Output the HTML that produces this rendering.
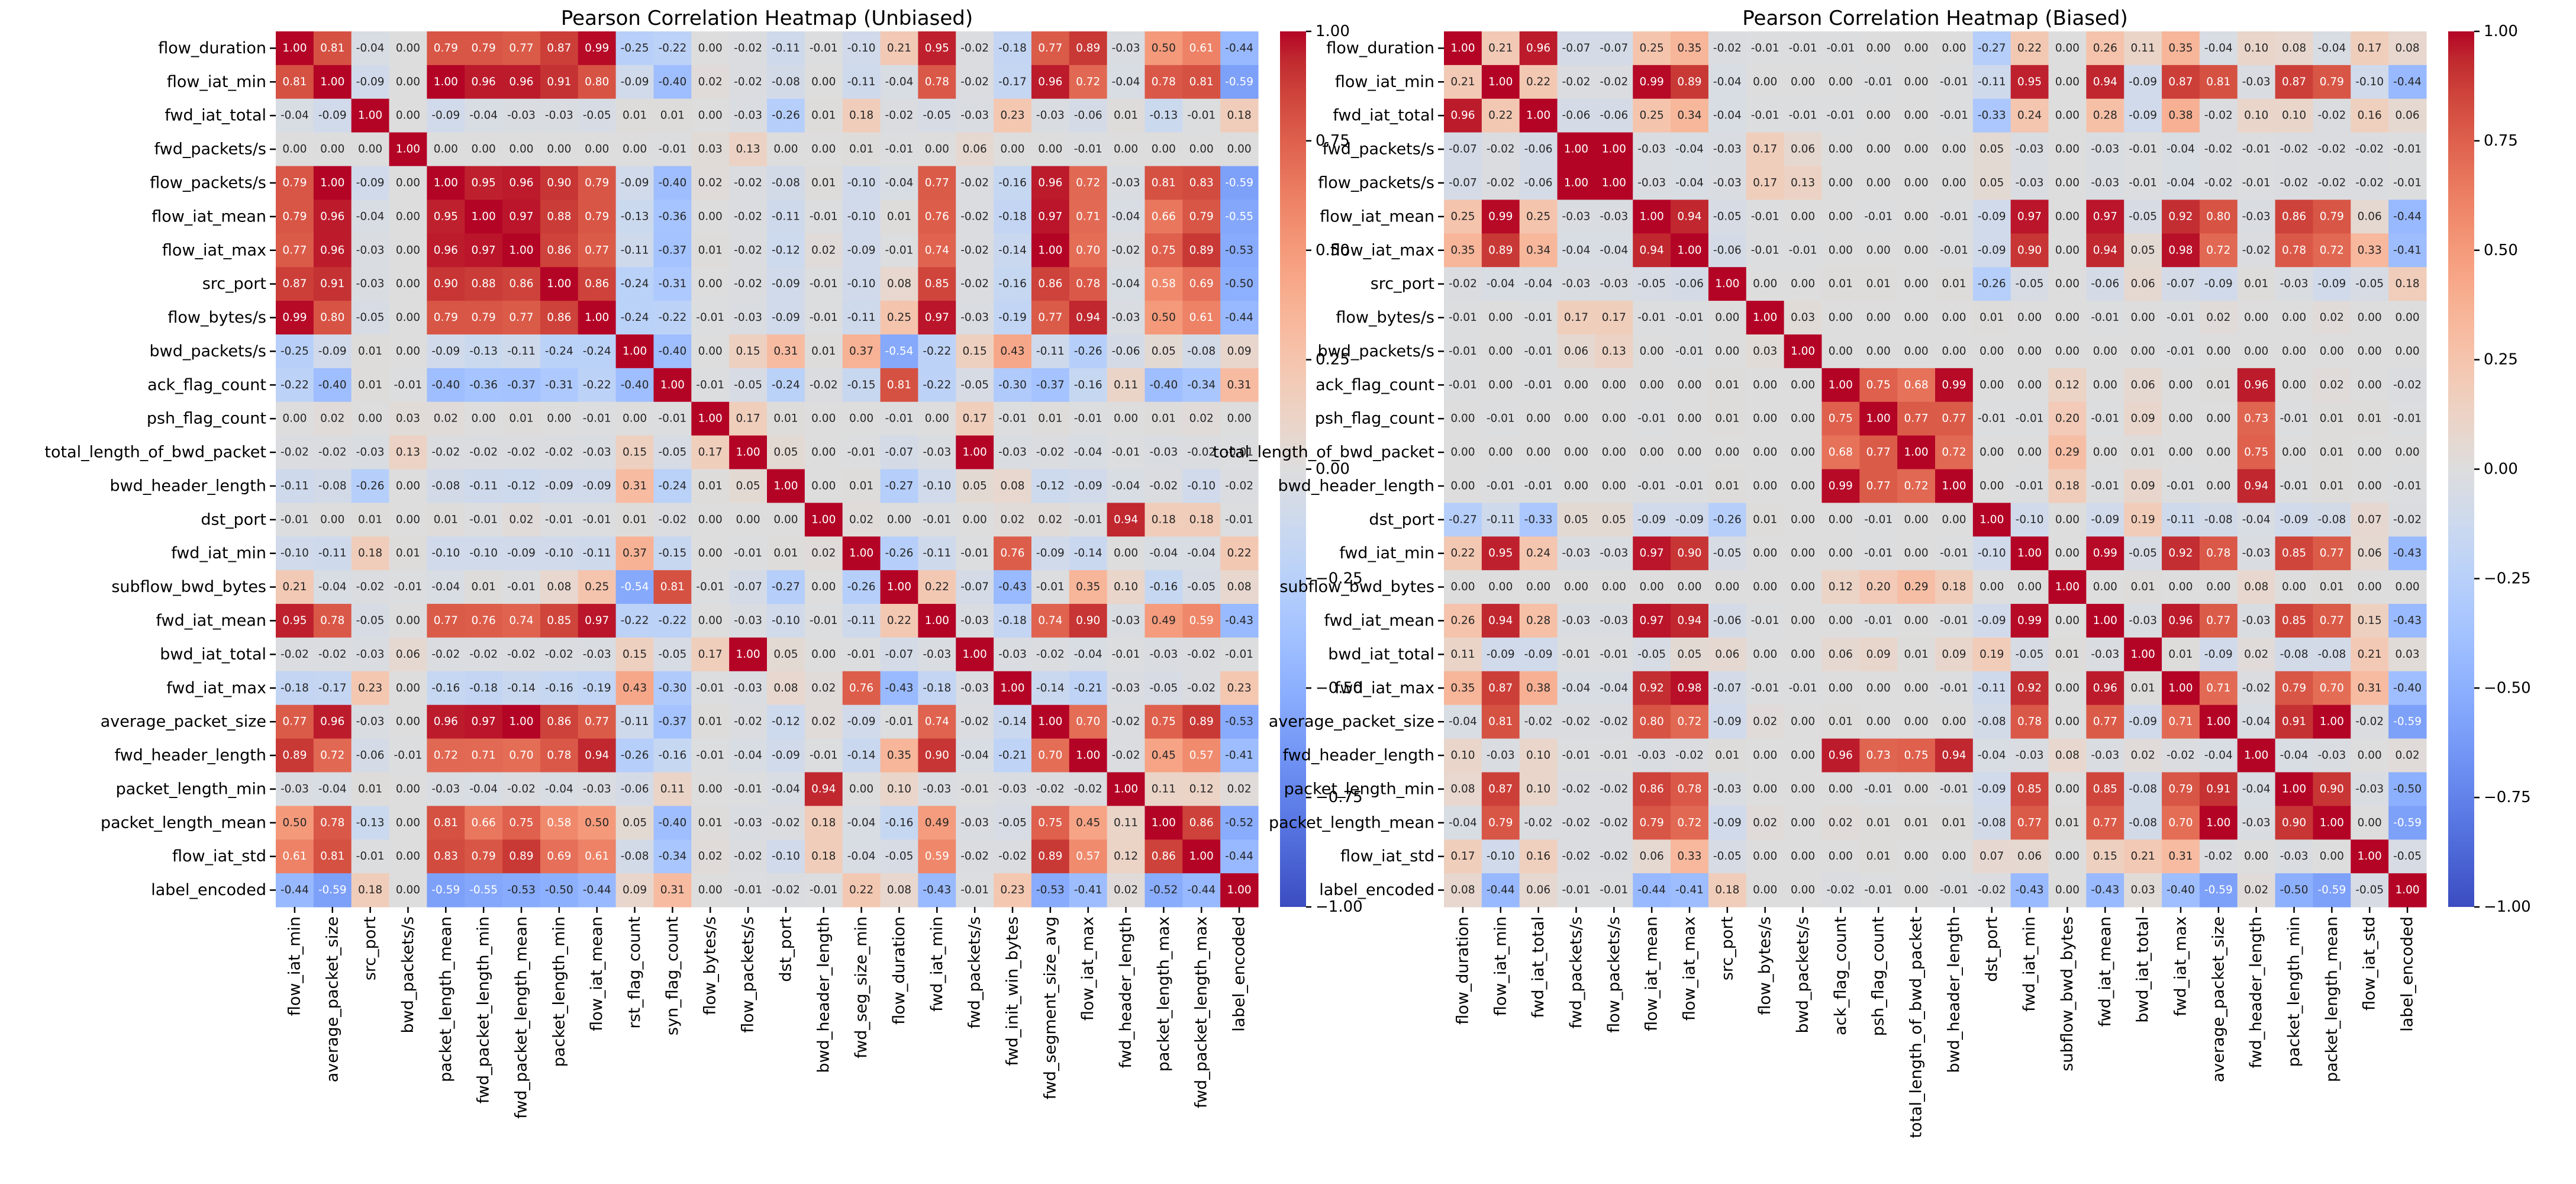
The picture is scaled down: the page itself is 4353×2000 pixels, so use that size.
<!DOCTYPE html>
<html><head><meta charset="utf-8"><style>
html,body{margin:0;padding:0;background:#fff;}
svg{display:block;font-family:"DejaVu Sans","Liberation Sans",sans-serif;}
</style></head>
<body>
<svg id="fig" xmlns="http://www.w3.org/2000/svg" width="4353" height="2000" viewBox="0 0 4353 2000">
<defs>
<linearGradient id="cmap" x1="0" y1="1" x2="0" y2="0"></linearGradient>
</defs>
<g id="chartU"></g>
<g id="chartB"></g>
</svg>
<script>
// ---------- data ----------
const rowLabels = ["flow_duration","flow_iat_min","fwd_iat_total","fwd_packets/s","flow_packets/s","flow_iat_mean","flow_iat_max","src_port","flow_bytes/s","bwd_packets/s","ack_flag_count","psh_flag_count","total_length_of_bwd_packet","bwd_header_length","dst_port","fwd_iat_min","subflow_bwd_bytes","fwd_iat_mean","bwd_iat_total","fwd_iat_max","average_packet_size","fwd_header_length","packet_length_min","packet_length_mean","flow_iat_std","label_encoded"];
const colLabelsUnbiased = ["flow_iat_min","average_packet_size","src_port","bwd_packets/s","packet_length_mean","fwd_packet_length_min","fwd_packet_length_mean","packet_length_min","flow_iat_mean","rst_flag_count","syn_flag_count","flow_bytes/s","flow_packets/s","dst_port","bwd_header_length","fwd_seg_size_min","flow_duration","fwd_iat_min","fwd_packets/s","fwd_init_win_bytes","fwd_segment_size_avg","flow_iat_max","fwd_header_length","packet_length_max","fwd_packet_length_max","label_encoded"];
const colLabelsBiased = rowLabels.slice();
const colorbarTicks = [1.00,0.75,0.50,0.25,0.00,-0.25,-0.50,-0.75,-1.00];

// Rows: either full (26 values) or upper triangle starting at the diagonal.
const unbiasedRows = [
[1.00,0.81,-0.04,-0.00,0.79,0.79,0.77,0.87,0.99,-0.25,-0.22,-0.00,-0.02,-0.11,-0.01,-0.10,0.21,0.95,-0.02,-0.18,0.77,0.89,-0.03,0.50,0.61,-0.44],
[0.81,1.00,-0.09,-0.00,1.00,0.96,0.96,0.91,0.80,-0.09,-0.40,0.02,-0.02,-0.08,0.00,-0.11,-0.04,0.78,-0.02,-0.17,0.96,0.72,-0.04,0.78,0.81,-0.59],
[-0.04,-0.09,1.00,0.00,-0.09,-0.04,-0.03,-0.03,-0.05,0.01,0.01,-0.00,-0.03,-0.26,0.01,0.18,-0.02,-0.05,-0.03,0.23,-0.03,-0.06,0.01,-0.13,-0.01,0.18],
[-0.00,-0.00,0.00,1.00,-0.00,-0.00,-0.00,-0.00,-0.00,-0.00,-0.01,0.03,0.13,0.00,0.00,0.01,-0.01,-0.00,0.06,-0.00,-0.00,-0.01,-0.00,-0.00,-0.00,-0.00],
[0.79,1.00,-0.09,-0.00,1.00,0.95,0.96,0.90,0.79,-0.09,-0.40,0.02,-0.02,-0.08,0.01,-0.10,-0.04,0.77,-0.02,-0.16,0.96,0.72,-0.03,0.81,0.83,-0.59],
[0.79,0.96,-0.04,-0.00,0.95,1.00,0.97,0.88,0.79,-0.13,-0.36,0.00,-0.02,-0.11,-0.01,-0.10,0.01,0.76,-0.02,-0.18,0.97,0.71,-0.04,0.66,0.79,-0.55],
[0.77,0.96,-0.03,-0.00,0.96,0.97,1.00,0.86,0.77,-0.11,-0.37,0.01,-0.02,-0.12,0.02,-0.09,-0.01,0.74,-0.02,-0.14,1.00,0.70,-0.02,0.75,0.89,-0.53],
[0.87,0.91,-0.03,-0.00,0.90,0.88,0.86,1.00,0.86,-0.24,-0.31,0.00,-0.02,-0.09,-0.01,-0.10,0.08,0.85,-0.02,-0.16,0.86,0.78,-0.04,0.58,0.69,-0.50],
[0.99,0.80,-0.05,-0.00,0.79,0.79,0.77,0.86,1.00,-0.24,-0.22,-0.01,-0.03,-0.09,-0.01,-0.11,0.25,0.97,-0.03,-0.19,0.77,0.94,-0.03,0.50,0.61,-0.44],
[-0.25,-0.09,0.01,-0.00,-0.09,-0.13,-0.11,-0.24,-0.24,1.00,-0.40,0.00,0.15,0.31,0.01,0.37,-0.54,-0.22,0.15,0.43,-0.11,-0.26,-0.06,0.05,-0.08,0.09],
[-0.22,-0.40,0.01,-0.01,-0.40,-0.36,-0.37,-0.31,-0.22,-0.40,1.00,-0.01,-0.05,-0.24,-0.02,-0.15,0.81,-0.22,-0.05,-0.30,-0.37,-0.16,0.11,-0.40,-0.34,0.31],
[-0.00,0.02,-0.00,0.03,0.02,0.00,0.01,0.00,-0.01,0.00,-0.01,1.00,0.17,0.01,-0.00,-0.00,-0.01,-0.00,0.17,-0.01,0.01,-0.01,-0.00,0.01,0.02,-0.00],
[-0.02,-0.02,-0.03,0.13,-0.02,-0.02,-0.02,-0.02,-0.03,0.15,-0.05,0.17,1.00,0.05,-0.00,-0.01,-0.07,-0.03,1.00,-0.03,-0.02,-0.04,-0.01,-0.03,-0.02,-0.01],
[1.00,0.00,0.01,-0.27,-0.10,0.05,0.08,-0.12,-0.09,-0.04,-0.02,-0.10,-0.02],
[1.00,0.02,-0.00,-0.01,-0.00,0.02,0.02,-0.01,0.94,0.18,0.18,-0.01],
[1.00,-0.26,-0.11,-0.01,0.76,-0.09,-0.14,-0.00,-0.04,-0.04,0.22],
[1.00,0.22,-0.07,-0.43,-0.01,0.35,0.10,-0.16,-0.05,0.08],
[1.00,-0.03,-0.18,0.74,0.90,-0.03,0.49,0.59,-0.43],
[1.00,-0.03,-0.02,-0.04,-0.01,-0.03,-0.02,-0.01],
[1.00,-0.14,-0.21,-0.03,-0.05,-0.02,0.23],
[1.00,0.70,-0.02,0.75,0.89,-0.53],
[1.00,-0.02,0.45,0.57,-0.41],
[1.00,0.11,0.12,0.02],
[1.00,0.86,-0.52],
[1.00,-0.44],
[1.00]
];
const biasedRows = [
[1.00,0.21,0.96,-0.07,-0.07,0.25,0.35,-0.02,-0.01,-0.01,-0.01,0.00,-0.00,-0.00,-0.27,0.22,-0.00,0.26,0.11,0.35,-0.04,0.10,0.08,-0.04,0.17,0.08],
[1.00,0.22,-0.02,-0.02,0.99,0.89,-0.04,-0.00,-0.00,-0.00,-0.01,-0.00,-0.01,-0.11,0.95,-0.00,0.94,-0.09,0.87,0.81,-0.03,0.87,0.79,-0.10,-0.44],
[1.00,-0.06,-0.06,0.25,0.34,-0.04,-0.01,-0.01,-0.01,0.00,-0.00,-0.01,-0.33,0.24,-0.00,0.28,-0.09,0.38,-0.02,0.10,0.10,-0.02,0.16,0.06],
[1.00,1.00,-0.03,-0.04,-0.03,0.17,0.06,-0.00,-0.00,-0.00,-0.00,0.05,-0.03,-0.00,-0.03,-0.01,-0.04,-0.02,-0.01,-0.02,-0.02,-0.02,-0.01],
[1.00,-0.03,-0.04,-0.03,0.17,0.13,-0.00,-0.00,-0.00,-0.00,0.05,-0.03,-0.00,-0.03,-0.01,-0.04,-0.02,-0.01,-0.02,-0.02,-0.02,-0.01],
[1.00,0.94,-0.05,-0.01,-0.00,-0.00,-0.01,-0.00,-0.01,-0.09,0.97,-0.00,0.97,-0.05,0.92,0.80,-0.03,0.86,0.79,0.06,-0.44],
[1.00,-0.06,-0.01,-0.01,-0.00,-0.00,-0.00,-0.01,-0.09,0.90,0.00,0.94,0.05,0.98,0.72,-0.02,0.78,0.72,0.33,-0.41],
[1.00,-0.00,0.00,0.01,0.01,0.00,0.01,-0.26,-0.05,0.00,-0.06,0.06,-0.07,-0.09,0.01,-0.03,-0.09,-0.05,0.18],
[1.00,0.03,0.00,0.00,0.00,-0.00,0.01,-0.00,-0.00,-0.01,-0.00,-0.01,0.02,-0.00,0.00,0.02,-0.00,-0.00],
[1.00,0.00,0.00,0.00,0.00,0.00,-0.00,-0.00,-0.00,-0.00,-0.01,-0.00,-0.00,-0.00,-0.00,-0.00,-0.00],
[1.00,0.75,0.68,0.99,-0.00,-0.00,0.12,-0.00,0.06,-0.00,0.01,0.96,-0.00,0.02,0.00,-0.02],
[1.00,0.77,0.77,-0.01,-0.01,0.20,-0.01,0.09,-0.00,0.00,0.73,-0.01,0.01,0.01,-0.01],
[1.00,0.72,-0.00,-0.00,0.29,-0.00,0.01,-0.00,0.00,0.75,-0.00,0.01,-0.00,-0.00],
[1.00,0.00,-0.01,0.18,-0.01,0.09,-0.01,0.00,0.94,-0.01,0.01,0.00,-0.01],
[1.00,-0.10,-0.00,-0.09,0.19,-0.11,-0.08,-0.04,-0.09,-0.08,0.07,-0.02],
[1.00,-0.00,0.99,-0.05,0.92,0.78,-0.03,0.85,0.77,0.06,-0.43],
[1.00,-0.00,0.01,0.00,0.00,0.08,-0.00,0.01,0.00,-0.00],
[1.00,-0.03,0.96,0.77,-0.03,0.85,0.77,0.15,-0.43],
[1.00,0.01,-0.09,0.02,-0.08,-0.08,0.21,0.03],
[1.00,0.71,-0.02,0.79,0.70,0.31,-0.40],
[1.00,-0.04,0.91,1.00,-0.02,-0.59],
[1.00,-0.04,-0.03,-0.00,0.02],
[1.00,0.90,-0.03,-0.50],
[1.00,-0.00,-0.59],
[1.00,-0.05],
[1.00]
];

// ---------- colormap (coolwarm) ----------
const CMAP=[[59,76,192],[68,90,204],[77,104,215],[87,117,225],[98,130,234],[108,142,241],[119,154,247],[130,165,251],[141,176,254],[152,185,255],[163,194,255],[174,201,253],[184,208,249],[194,213,244],[204,217,238],[213,219,230],[221,221,221],[229,216,209],[236,211,197],[241,204,185],[245,196,173],[247,187,160],[247,177,148],[247,166,135],[244,154,123],[241,141,111],[236,127,99],[229,112,88],[222,96,77],[213,80,66],[203,62,56],[192,40,47],[180,4,38]];
function cmap(v){let t=(v+1)/2;t=Math.max(0,Math.min(1,t));const p=t*(CMAP.length-1);const i=Math.min(CMAP.length-2,Math.floor(p));const f=p-i;const a=CMAP[i],b=CMAP[i+1];return [0,1,2].map(k=>a[k]+(b[k]-a[k])*f);}
function lum(c){const l=c.map(x=>{x/=255;return x<=0.03928?x/12.92:Math.pow((x+0.055)/1.055,2.4);});return 0.2126*l[0]+0.7152*l[1]+0.0722*l[2];}
function rgb(c){return 'rgb('+c.map(Math.round).join(',')+')';}
function fmt(v){return v.toFixed(2);}

const NS='http://www.w3.org/2000/svg';
function el(tag,attrs,parent){const e=document.createElementNS(NS,tag);for(const k in attrs)e.setAttribute(k,attrs[k]);if(parent)parent.appendChild(e);return e;}

const grad=document.getElementById('cmap');
CMAP.forEach((c,i)=>{el('stop',{offset:(i/(CMAP.length-1)*100)+'%','stop-color':rgb(c)},grad);});

function buildMatrix(rows){const n=rows.length;const M=[];for(let i=0;i<n;i++)M.push(new Array(n).fill(0));
rows.forEach((r,i)=>{const off=n-r.length;r.forEach((v,k)=>{const j=off+k;M[i][j]=v;if(j>i)M[j][i]=v;});});return M;}

const N=26, GW=1660, GH=1479, GY=53;
function drawChart(gid,x0,title,rowsData,xLabels,yLabels,prefix){
  const g=document.getElementById(gid);
  const M=buildMatrix(rowsData);
  const cw=GW/N, ch=GH/N;
  const xs=j=>x0+j*cw, ys=i=>GY+i*ch;
  const t=el('text',{x:x0+GW/2,y:42,'text-anchor':'middle','font-size':'34',fill:'#000'},g);
  t.textContent=title;
  
  
  const cells=el('g',{},g);
  
  
  for(let i=0;i<N;i++)for(let j=0;j<N;j++){
    const v=M[i][j];const c=cmap(v);
    const r=el('rect',{x:xs(j).toFixed(2),y:ys(i).toFixed(2),width:(cw+0.6).toFixed(2),height:(ch+0.6).toFixed(2),fill:rgb(c)},cells);
    
    
    const tx=el('text',{x:(xs(j)+cw/2).toFixed(2),y:(ys(i)+ch/2).toFixed(2),'text-anchor':'middle','dominant-baseline':'central','font-size':'18.5',fill:lum(c)>0.408?'#262626':'#ffffff'},cells);
    tx.textContent=fmt(v);
    
    
  }
  yLabels.forEach((lab,i)=>{
    const cy=ys(i)+ch/2;
    el('line',{x1:x0-10,x2:x0,y1:cy,y2:cy,stroke:'#000','stroke-width':2.5},g);
    const tl=el('text',{x:x0-16,y:cy,'text-anchor':'end','dominant-baseline':'central','font-size':'27',fill:'#000'},g);
    tl.textContent=lab;
    
    
  });
  xLabels.forEach((lab,j)=>{
    const cx=xs(j)+cw/2, by=GY+GH;
    el('line',{x1:cx,x2:cx,y1:by,y2:by+10,stroke:'#000','stroke-width':2.5},g);
    const tl=el('text',{x:0,y:0,transform:'translate('+cx.toFixed(2)+','+(by+16)+') rotate(-90)','text-anchor':'end','dominant-baseline':'central','font-size':'27',fill:'#000'},g);
    tl.textContent=lab;
    
    
  });
  const cbx=x0+GW+37, cbw=44;
  const cb=el('g',{},g);
  
  
  el('rect',{x:cbx,y:GY,width:cbw,height:GH,fill:'url(#cmap)'},cb);
  const cbY=v=>GY+(1-v)/2*GH;
  colorbarTicks.forEach(v=>{
    const y=cbY(v);
    el('line',{x1:cbx+cbw,x2:cbx+cbw+9,y1:y,y2:y,stroke:'#000','stroke-width':2.5},cb);
    const tl=el('text',{x:cbx+cbw+16,y:y,'dominant-baseline':'central','font-size':'26',fill:'#000'},cb);
    tl.textContent=(v<0?'\u2212':'')+Math.abs(v).toFixed(2);
    
    
  });
}
drawChart('chartU',466,'Pearson Correlation Heatmap (Unbiased)',unbiasedRows,colLabelsUnbiased,rowLabels,'unbiased');
drawChart('chartB',2440,'Pearson Correlation Heatmap (Biased)',biasedRows,colLabelsBiased,rowLabels,'biased');
</script>
</body></html>
